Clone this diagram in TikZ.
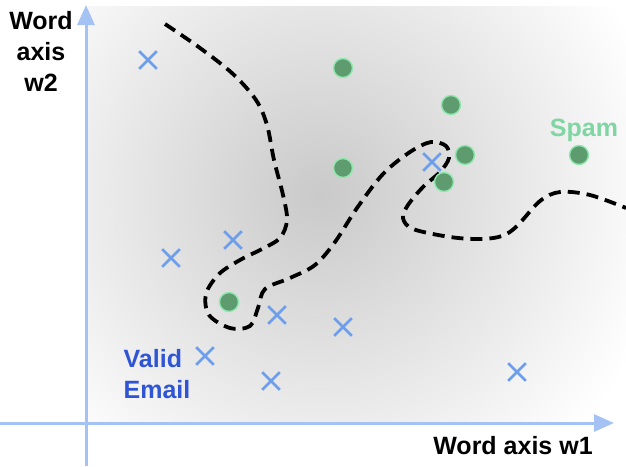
\documentclass[tikz,border=0pt]{standalone}
\usepackage{fontspec}
\setmainfont{Liberation Sans}
\usetikzlibrary{arrows.meta,shapes.misc}

\definecolor{axisblue}{HTML}{A4C2F4}
\definecolor{crossblue}{HTML}{6D9EEB}
\definecolor{labelblue}{HTML}{2F55D4}
\definecolor{dotgreen}{HTML}{5E9C70}
\definecolor{dotrim}{HTML}{8EE8AE}
\definecolor{spamgreen}{HTML}{80D6A2}
\definecolor{glow}{gray}{0.79}

% grey centre fading linearly to white at the rim of the shaded path
\pgfdeclareradialshading{glowshade}{\pgfpoint{0bp}{0bp}}{color(0bp)=(glow); color(25bp)=(white); color(50bp)=(white)}

\tikzset{
  axisline/.style={line width=3pt, draw=axisblue, -{Triangle[width=17pt,length=20pt]}},
  dot/.style={circle, fill=dotgreen, draw=dotrim, line width=1.4pt, minimum size=19pt, inner sep=0pt},
  xmark/.style={cross out, draw=crossblue, line width=2.7pt, minimum size=15pt, inner sep=0pt},
  boundary/.style={line width=3.8pt, black, dash pattern=on 12pt off 7pt},
  lbl/.style={font=\fontsize{25}{31}\selectfont\bfseries, inner sep=0pt}
}

\begin{document}
\begin{tikzpicture}[x=1pt,y=-1pt]
\useasboundingbox (0,0) rectangle (626,466);

% soft grey glow behind the data
\begin{scope}
  \clip (88,6) rectangle (626,421);
  \shade[shading=glowshade] (320,195) circle (350pt);
\end{scope}

% axes
\coordinate (xstart) at (0,423);
\coordinate (xend) at (614,423);
\coordinate (ystart) at (86,466);
\coordinate (yend) at (86,5);
\draw[axisline] (xstart) -- (xend);
\draw[axisline] (ystart) -- (yend);

% decision boundary
\draw[boundary] plot[smooth, tension=0.55] coordinates {
  (165,24) (200,48) (233,74) (256,100) (267,125) (274,160) (283,195)
  (287,220) (280,238) (262,249) (240,260) (219,274) (206,294) (209,315)
  (230,328) (250,326) (258,308) (265,289) (290,278) (315,265) (335,242)
  (357,208) (383,174) (410,152) (431,142) (446,146) (449,158) (440,172)
  (423,187) (408,205) (403,218) (413,229) (450,237) (480,239) (502,236)
  (517,226) (540,201) (560,192) (590,195) (626,208)};

% valid email samples
\node[xmark] (v1) at (148,60) {};
\node[xmark] (v2) at (432,162) {};
\node[xmark] (v3) at (233,240) {};
\node[xmark] (v4) at (171,258) {};
\node[xmark] (v5) at (277,315) {};
\node[xmark] (v6) at (343,327) {};
\node[xmark] (v7) at (205,356) {};
\node[xmark] (v8) at (271,381) {};
\node[xmark] (v9) at (517,372) {};

% spam samples
\node[dot] (s1) at (343,68) {};
\node[dot] (s2) at (451,105) {};
\node[dot] (s3) at (343,168) {};
\node[dot] (s4) at (465,155) {};
\node[dot] (s5) at (444,182) {};
\node[dot] (s6) at (579,155) {};
\node[dot] (s7) at (229,302) {};

% labels
\node[lbl, align=center] (w2) at (41,51) {Word\\axis\\w2};
\node[lbl, anchor=base] (w1) at (513,454) {Word axis w1};
\node[lbl, text=spamgreen, anchor=base] (spam) at (584,136) {Spam};
\node[lbl, text=labelblue, align=left] (valid) at (157,374) {Valid\\Email};
\end{tikzpicture}
\end{document}
